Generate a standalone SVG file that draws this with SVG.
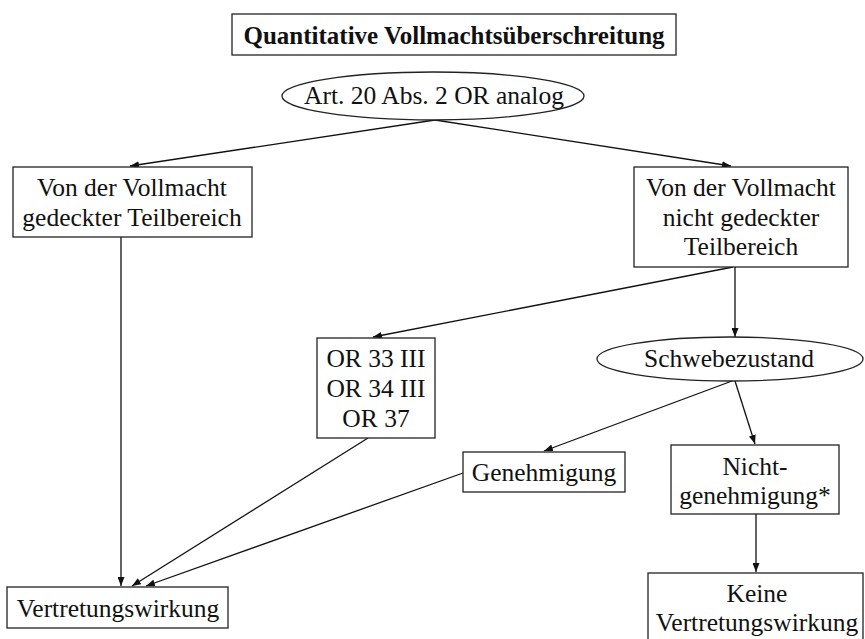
<svg xmlns="http://www.w3.org/2000/svg" width="865" height="639" viewBox="0 0 865 639">
<defs>
<style>
.box{fill:#fff;stroke:#222;stroke-width:1.3}
.t{font-family:"Liberation Serif","Times New Roman",serif;font-size:25.5px;fill:#111;text-anchor:middle}
.b{font-weight:bold;font-size:25px}
.c{stroke:#111;stroke-width:1.3;fill:none;marker-end:url(#ah)}
</style>
<marker id="ah" markerUnits="userSpaceOnUse" markerWidth="9" markerHeight="7" refX="9" refY="3.5" orient="auto">
<path d="M0,0 L9,3.5 L0,7 z" fill="#111"/>
</marker>
</defs>
<rect width="865" height="639" fill="#fff"/>
<g id="connectors">
<line class="c" x1="435" y1="120" x2="130" y2="166"/>
<line class="c" x1="435" y1="120" x2="731" y2="166"/>
<line class="c" x1="121" y1="237" x2="121" y2="586"/>
<line class="c" x1="733" y1="267" x2="373" y2="337"/>
<line class="c" x1="735" y1="267" x2="735" y2="337"/>
<line class="c" x1="732" y1="381" x2="544" y2="451"/>
<line class="c" x1="735" y1="381" x2="755" y2="444"/>
<line class="c" x1="756" y1="514" x2="756" y2="572"/>
<line class="c" x1="368" y1="438" x2="132" y2="586"/>
<line class="c" x1="463" y1="473" x2="146" y2="586"/>
</g>
<g id="title">
<rect class="box" x="232" y="14" width="444" height="41"/>
<text class="t b" x="454" y="44">Quantitative Vollmachtsüberschreitung</text>
</g>
<g id="art20">
<ellipse class="box" cx="433" cy="96" rx="151" ry="24"/>
<text class="t" x="434" y="104">Art. 20 Abs. 2 OR analog</text>
</g>
<g id="gedeckt">
<rect class="box" x="13" y="167" width="239" height="70"/>
<text class="t" x="132" y="196">Von der Vollmacht</text>
<text class="t" x="132" y="226">gedeckter Teilbereich</text>
</g>
<g id="nichtgedeckt">
<rect class="box" x="634" y="167" width="214" height="100"/>
<text class="t" x="741" y="196">Von der Vollmacht</text>
<text class="t" x="741" y="226">nicht gedeckter</text>
<text class="t" x="741" y="255">Teilbereich</text>
</g>
<g id="or">
<rect class="box" x="317" y="338" width="118" height="100"/>
<text class="t" x="376" y="367">OR 33 III</text>
<text class="t" x="376" y="397">OR 34 III</text>
<text class="t" x="376" y="427">OR 37</text>
</g>
<g id="schwebe">
<ellipse class="box" cx="730" cy="359" rx="133" ry="22"/>
<text class="t" x="729" y="367">Schwebezustand</text>
</g>
<g id="genehmigung">
<rect class="box" x="463" y="452" width="162" height="40"/>
<text class="t" x="544" y="481">Genehmigung</text>
</g>
<g id="nichtgenehmigung">
<rect class="box" x="671" y="445" width="168" height="69"/>
<text class="t" x="755" y="475">Nicht-</text>
<text class="t" x="755" y="504">genehmigung*</text>
</g>
<g id="vertretung">
<rect class="box" x="7" y="587" width="221" height="41"/>
<text class="t" x="118" y="617">Vertretungswirkung</text>
</g>
<g id="keine">
<rect class="box" x="648" y="573" width="215" height="80"/>
<text class="t" x="757" y="602">Keine</text>
<text class="t" x="757" y="631">Vertretungswirkung</text>
</g>
</svg>
